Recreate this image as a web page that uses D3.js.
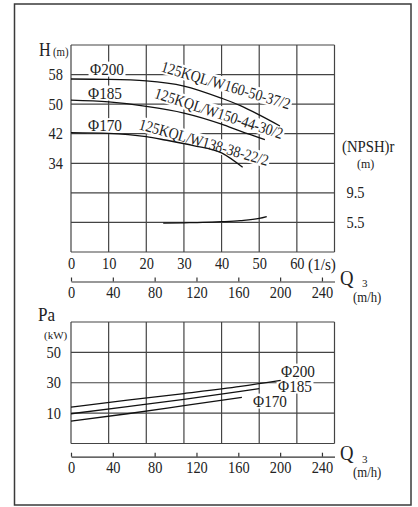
<!DOCTYPE html>
<html><head><meta charset="utf-8">
<script src="https://cdn.jsdelivr.net/npm/d3@7"></script>
<style>
html,body{margin:0;padding:0;background:#fff}
svg{display:block}
text{font-family:"Liberation Serif","Times New Roman",serif;fill:#222}
</style>
</head><body><svg id="c" width="418" height="507"></svg>
<script>
// ---------- data ----------
const qTicksLs   = [0,10,20,30,40,50,60];
const qTicksM3h  = [0,40,80,120,160,200,240];
const qGridLs    = [0,10,20,30,40,50,60,70];
const hTicks     = [58,50,42,34];
const hGrid      = [66,58,50,42,34,26,18,10];
const npshTicks  = [9.5,5.5];
const paTicks    = [50,30,10];
const paGrid     = [70,50,30,10,-10];

const headQ200 = [0,10,20,30,40,45,50,55.5];
const head200  = [56.8,56.7,56.3,54.9,51.6,49.6,47.1,44.1];
const headQ185 = [0,10,20,30,40,45,51.5];
const head185  = [51.1,50.6,49.4,47.6,44.6,42.7,40.4];
const headQ170 = [0,10,20,25,32.5,40,45.6];
const head170  = [42.3,42.1,41.2,40.3,38.8,36.8,32.9];

const npshQ    = [24.5,30,35,40,45,50,52];
const npshVal  = [5.4,5.45,5.5,5.6,5.75,6.05,6.3];

const powQ200  = [0,15,30,45,55.7];
const pow200   = [14,18.5,22.9,27.6,31.6];
const powQ185  = [0,15,30,45,50];
const pow185   = [9.6,14.3,19.1,24.3,26.1];
const powQ170  = [0,15,30,45.4];
const pow170   = [4.7,9.6,14.9,20.4];

const modelLabels = ["125KQL/W160-50-37/2","125KQL/W150-44-30/2","125KQL/W138-38-22/2"];
const diaLabels   = ["Φ200","Φ185","Φ170"];

// ---------- scales ----------
const svg = d3.select("#c");
const X0 = 71, X1 = 334.5;
const xQ  = d3.scaleLinear().domain([0,70]).range([X0,X1]);
const xM  = d3.scaleLinear().domain([0,252]).range([X0,X1]);
const yH  = d3.scaleLinear().domain([10,66]).range([252,45]);
const yN  = d3.scaleLinear().domain([1.5,29.5]).range([252,45]);
const yP  = d3.scaleLinear().domain([-10,70]).range([443.5,322]);

function squeeze(sel, f){
  sel.each(function(){
    const w = this.getComputedTextLength();
    this.setAttribute("textLength", (w*f).toFixed(2));
    this.setAttribute("lengthAdjust","spacingAndGlyphs");
  });
}

// outer frame
svg.append("rect").attr("x",14.5).attr("y",4).attr("width",396.5).attr("height",501)
  .attr("fill","none").attr("stroke","#3a3a3a").attr("stroke-width",1.5);

const gridCol = "#444";
// ---------- top grid ----------
const gTop = svg.append("g");
gTop.selectAll("line.v").data(qGridLs).join("line")
  .attr("x1",d=>xQ(d)).attr("x2",d=>xQ(d)).attr("y1",yH(66)).attr("y2",yH(10))
  .attr("stroke",gridCol).attr("stroke-width",1.2);
gTop.selectAll("line.h").data(hGrid).join("line")
  .attr("x1",X0).attr("x2",X1).attr("y1",d=>yH(d)).attr("y2",d=>yH(d))
  .attr("stroke",gridCol).attr("stroke-width",1.2);

// ---------- bottom grid ----------
const gBot = svg.append("g");
gBot.selectAll("line.v").data(qGridLs).join("line")
  .attr("x1",d=>xQ(d)).attr("x2",d=>xQ(d)).attr("y1",yP(70)).attr("y2",yP(-10))
  .attr("stroke",gridCol).attr("stroke-width",1.2);
gBot.selectAll("line.h").data(paGrid).join("line")
  .attr("x1",X0).attr("x2",X1).attr("y1",d=>yP(d)).attr("y2",d=>yP(d))
  .attr("stroke",gridCol).attr("stroke-width",1.2);

// layers: label backgrounds under curves, label text on top
const bgLayer = svg.append("g");
const curveLayer = svg.append("g");
const textLayer = svg.append("g");

function label(txt, x, y, opts){
  const o = Object.assign({size:16, rot:0, f:0.9, len:null, anchor:"middle", pad:1.5}, opts||{});
  const tf = `translate(${x},${y}) rotate(${o.rot})`;
  const t = textLayer.append("text").attr("transform",tf)
    .attr("text-anchor",o.anchor).attr("dy","0.35em")
    .style("font-size",o.size+"px").text(txt);
  if (o.len) { t.attr("textLength",o.len).attr("lengthAdjust","spacingAndGlyphs"); }
  else squeeze(t, o.f);
  const b = t.node().getBBox();
  bgLayer.append("rect").attr("transform",tf)
    .attr("x",b.x-o.pad).attr("y",b.y+1).attr("width",b.width+2*o.pad).attr("height",b.height-2)
    .attr("fill","#fff");
  return t;
}

// ---------- curves ----------
const lineH = (qs,hs)=> d3.line().curve(d3.curveMonotoneX)
  .x((d,i)=>xQ(qs[i])).y((d,i)=>yH(hs[i]))(hs);
const lineN = d3.line().curve(d3.curveMonotoneX)
  .x((d,i)=>xQ(npshQ[i])).y((d,i)=>yN(npshVal[i]));
const lineP = (qs,ps)=> d3.line().curve(d3.curveMonotoneX)
  .x((d,i)=>xQ(qs[i])).y((d,i)=>yP(ps[i]))(ps);

[[headQ200,head200],[headQ185,head185],[headQ170,head170]].forEach(([q,h])=>{
  curveLayer.append("path").attr("d",lineH(q,h)).attr("fill","none")
    .attr("stroke","#111").attr("stroke-width",1.3);
});
curveLayer.append("path").attr("d",lineN(npshVal)).attr("fill","none")
  .attr("stroke","#111").attr("stroke-width",1.3);
[[powQ200,pow200],[powQ185,pow185],[powQ170,pow170]].forEach(([q,p])=>{
  curveLayer.append("path").attr("d",lineP(q,p)).attr("fill","none")
    .attr("stroke","#111").attr("stroke-width",1.3);
});

// ---------- curve labels ----------
label(diaLabels[0],107,69,{f:0.95});
label(diaLabels[1],105,93,{f:0.95});
label(diaLabels[2],105,125.5,{f:0.95});
label(modelLabels[0],226,85,{rot:16.5,len:134});
label(modelLabels[1],219,113,{rot:18,len:134});
label(modelLabels[2],204,142,{rot:16,len:134});
label(diaLabels[0],298,371,{f:0.95});
label(diaLabels[1],295,386,{f:0.95});
label(diaLabels[2],270,401,{f:0.95});

// ---------- axes ----------
// l/s labels
const axLs = svg.append("g").attr("transform",`translate(0,252)`)
  .call(d3.axisBottom(xQ).tickValues(qTicksLs).tickSize(0).tickPadding(6));
axLs.select(".domain").remove();
axLs.selectAll("text").style("font-size","16px").style("font-family",null).attr("fill","#222");
squeeze(axLs.selectAll("text"),0.9);
svg.append("text").attr("x",308).attr("y",264).attr("dy","0.35em")
  .style("font-size","16px").text("(1/s)").call(squeeze,0.95);

// m3/h axes (ticks up, labels below)
function m3Axis(y){
  const a = svg.append("g").attr("transform",`translate(0,${y})`)
    .call(d3.axisBottom(xM).tickValues(qTicksM3h).tickSizeInner(-4).tickSizeOuter(0).tickPadding(5));
  a.selectAll("path,line").attr("stroke","#333").attr("stroke-width",1.2);
  a.selectAll("text").style("font-size","16px").style("font-family",null).attr("fill","#222");
  squeeze(a.selectAll("text"),0.9);
  svg.append("text").attr("x",340).attr("y",y-4).attr("dy","0.35em")
    .style("font-size","22px").text("Q").call(squeeze,0.85);
  svg.append("text").attr("x",353).attr("y",y+15).attr("dy","0.35em")
    .style("font-size","15px").text("(m/h)").call(squeeze,0.85);
  svg.append("text").attr("x",362).attr("y",y+2).attr("dy","0.35em")
    .style("font-size","11px").text("3");
}
m3Axis(281.5);
m3Axis(456.7);

// H axis
const axH = svg.append("g").attr("transform",`translate(${X0},0)`)
  .call(d3.axisLeft(yH).tickValues(hTicks).tickSize(0).tickPadding(8));
axH.select(".domain").remove();
axH.selectAll("text").style("font-size","16px").style("font-family",null).attr("fill","#222");
squeeze(axH.selectAll("text"),0.9);

// NPSH axis
const axN = svg.append("g").attr("transform",`translate(${X1},0)`)
  .call(d3.axisRight(yN).tickValues(npshTicks).tickSize(0).tickPadding(12).tickFormat(d3.format(".1f")));
axN.select(".domain").remove();
axN.selectAll("text").style("font-size","16px").style("font-family",null).attr("fill","#222");
squeeze(axN.selectAll("text"),0.9);

// Pa axis
const axP = svg.append("g").attr("transform",`translate(${X0},0)`)
  .call(d3.axisLeft(yP).tickValues(paTicks).tickSize(0).tickPadding(10));
axP.select(".domain").remove();
axP.selectAll("text").style("font-size","16px").style("font-family",null).attr("fill","#222");
squeeze(axP.selectAll("text"),0.9);

// titles
svg.append("text").attr("x",39).attr("y",56).style("font-size","19px").text("H").call(squeeze,0.85);
svg.append("text").attr("x",53).attr("y",56).style("font-size","12px").text("(m)").call(squeeze,0.9);
svg.append("text").attr("x",342).attr("y",146).attr("dy","0.35em").style("font-size","16px").text("(NPSH)r").call(squeeze,0.92);
svg.append("text").attr("x",357).attr("y",164).attr("dy","0.35em").style("font-size","12px").text("(m)");
svg.append("text").attr("x",38).attr("y",321).style("font-size","19px").text("Pa").call(squeeze,0.9);
svg.append("text").attr("x",44).attr("y",339).style("font-size","11px").text("(kW)");
</script></body></html>
